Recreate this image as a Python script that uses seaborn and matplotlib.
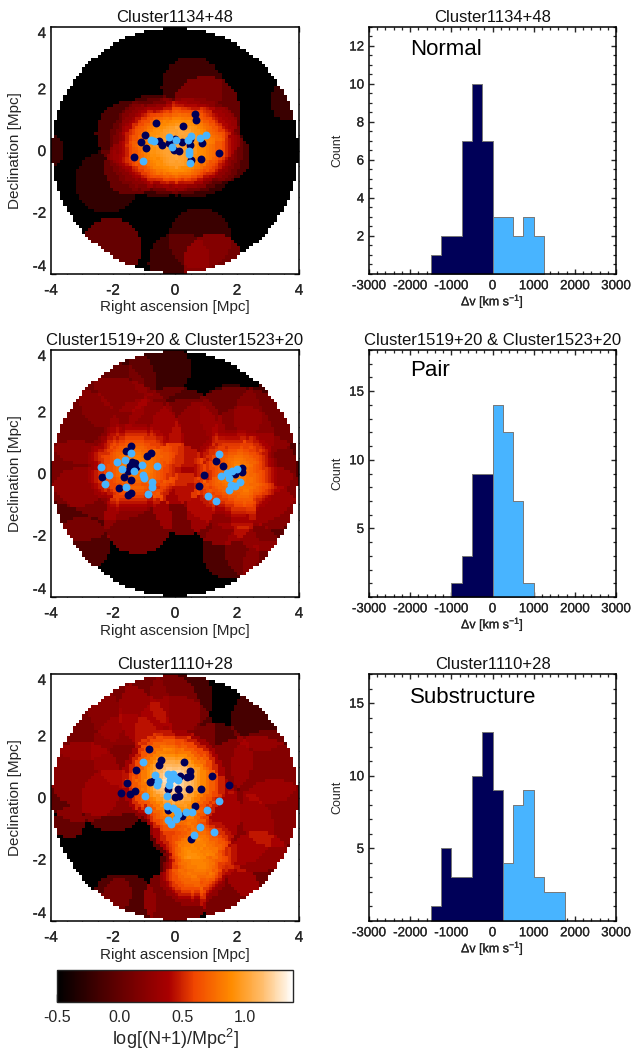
import numpy as np
import matplotlib
matplotlib.use('Agg')
import matplotlib.pyplot as plt
import matplotlib.patheffects as pe
import seaborn as sns
from matplotlib.colors import LinearSegmentedColormap

sns.set_theme(style='ticks')
plt.rcParams['font.family'] = ['Liberation Sans', 'DejaVu Sans']
plt.rcParams['mathtext.fontset'] = 'custom'
plt.rcParams['mathtext.rm'] = 'Liberation Sans'
plt.rcParams['mathtext.default'] = 'regular'
plt.rcParams['axes.unicode_minus'] = False
plt.rcParams['text.color'] = '#111111'

NAVY = '#000058'
LIGHT = '#48B4FF'

titles = ['Cluster1134+48', 'Cluster1519+20 & Cluster1523+20', 'Cluster1110+28']
kinds = ['Normal', 'Pair', 'Substructure']

# galaxy positions [Mpc]
navy_1 = [(0.65,1.18),(0.68,1.00),(-0.62,0.90),(0.27,0.78),(-0.97,0.49),(-1.10,0.29),(-0.51,0.32),
          (-0.43,0.18),(-0.92,0.09),(-1.31,-0.20),(-0.19,0.24),(0,0.38),(0.22,0.29),(-0.03,0.03),
          (0.12,-0.03),(0.48,0.19),(0.86,0.24),(0.83,-0.26),(0.52,-0.30),(1.41,-0.09),(0.48,0.38)]
light_1 = [(-1.03,-0.34),(-0.77,0.34),(-0.67,0.32),(-0.18,0.45),(0.03,0.34),(-0.09,0.10),(0.41,0.35),
           (0.51,0.48),(0.81,0.40),(0.99,0.51),(0.46,0),(0.46,-0.11),(0.48,-0.40)]
navy_2 = [(-1.43,0.88),(-1.59,0.74),(-0.91,0.58),(-0.78,0.66),(-1.40,0.38),(-1.29,0.34),(-1.26,0.20),
          (-1.45,0.24),(-1.51,0.08),(-1.66,-0.10),(-1.42,-0.20),(-2.34,-0.11),(-1.81,-0.47),(-1.42,-0.62),
          (-1.51,-0.71),(1.31,0.41),(1.55,0.24),(0.92,-0.05),(0.78,-0.42),(1.94,0),(2.15,0.18),(2.16,0.05)]
light_2 = [(-2.40,0.22),(-2.14,-0.04),(-2.26,-0.33),(-1.87,0.37),(-1.61,0.45),(-1.43,0.67),(-1.70,0.16),
           (-1.32,0.08),(-1.08,0.28),(-0.58,0.24),(-1.03,-0.05),(-1.0,-0.14),(-0.75,-0.28),(-0.73,-0.45),
           (-0.88,-0.67),(-1.57,-0.44),(1.43,0.62),(1.49,-0.09),(1.67,0.02),(1.83,0.08),(1.99,0.16),
           (1.75,-0.14),(1.80,-0.38),(1.73,-0.54),(1.95,-0.40),(2.10,-0.27),(1.08,-0.72),(1.32,-0.90)]
navy_3 = [(-0.84,1.58),(-0.45,1.22),(-0.53,1.06),(0.28,1.15),(-1.27,0.90),(0.48,0.85),(1.20,0.69),(1.75,0.40),
          (-1.55,0.47),(-1.29,0.20),(-1.45,0.12),(-1.75,0.16),(-0.81,0.49),(-0.70,0.53),(0.16,0.69),(0.38,0.66),
          (0.48,0.71),(-0.22,0.26),(0.11,0.26),(0.44,0.26),(0.83,0.26),(0,0.01),(0.12,0.04),(0.66,-0.29),
          (-0.22,-0.41),(0.22,-0.60),(0.52,-1.34),(0.05,-0.66)]
light_3 = [(-1.03,1.15),(-0.66,0.74),(-0.54,0.53),(-0.59,0.40),(-0.96,0.04),(-0.86,-0.41),(-0.24,0.77),(-0.08,0.77),
           (0,0.63),(0.09,0.58),(-0.16,0.56),(-0.19,0.39),(-0.26,0.04),(-0.26,-0.29),(-0.05,-0.33),(0.05,-0.44),
           (0.11,-0.52),(0.34,-0.46),(0.56,-0.46),(1.04,-0.41),(1.42,-0.12),(-0.24,-0.74),(-0.12,-0.85),
           (0.02,-0.71),(0.81,-0.96),(1.25,-1.11),(0.60,-1.23)]

# overlapping discs seen in the density maps: x, y, radius, density added
discs_1 = [(-2.2,-1.02,1.02,.25),(-2.05,-3.17,.97,.7),(0.8,-2.85,1.0,.3),(0.15,-3.65,1.0,.35),(1.25,-3.65,.95,.9),
           (0.55,2.05,1.0,.35),(3.7,1.6,.65,.3),(-4.15,0,.6,.3),(-1.5,.55,1.05,.45),(-0.7,.85,1.0,.4),
           (1.0,1.3,1.1,.7),(1.65,-.2,.8,.5),(1.25,.55,.9,.6),(-1.4,-.55,.9,.5)]
discs_2 = [(-2.0,.8,2.3,.5),(2.0,.5,2.3,.5),(0,1.2,1.6,.5),(-3.0,1.5,1.2,.4),(-1.6,3.0,1.0,.35),(-.5,3.4,1.0,.3),
           (-2.0,2.5,1.1,.35),(-3.2,0,1.1,.5),(-3.0,-1.0,1.2,.5),(-3.0,-2.3,.9,.5),(-1.0,1.2,1.2,.4),(.3,1.3,1.1,.5),
           (0,0,1.0,1.0),(.3,-1.0,1.0,.9),(-1.2,-1.5,1.1,.9),(1.8,1.9,1.0,.3),(3.0,1.8,1.1,.4),(2.9,.3,1.0,.5),
           (3.2,-.8,1.0,.6),(2.2,1.2,1.0,.4),(1.5,-1.2,1.1,.9),(2.9,-1.4,1.1,.6),(1.8,-2.5,.95,.45),(2.5,-2.5,.9,.45),
           (3.0,-3.0,.8,.4)]
discs_3 = [(2.5,-.2,2.2,.7),(-2.2,1.6,2.2,.7),(.6,-.5,1.5,.8),(-.5,2.8,1.3,.6),(-3,2.5,1.3,.3),(-1.5,3.0,1.3,.3),
           (.2,3.2,1.05,.4),(-1.5,1.5,1.2,.4),(0,2,1.3,.5),(1.3,1.2,1.2,.5),(2.8,2.5,1.0,.4),(3.0,1,1.2,.5),
           (3.2,-.5,1.1,.6),(-3,.5,1.3,.6),(-2,-.1,1.05,.6),(-3.4,-.8,.5,.7),(2,-1,1.2,.5),(2.7,-2.2,1.1,.8),
           (1.8,-3.2,1.0,1.0),(0,-3.3,1.0,1.0),(-1.5,-3.4,.9,.5),(-2,-3.1,.6,.5)]

# smooth cores: centre x, centre y, radii, density added by each ring
cores_1 = [(.05,.15,[1.6,1.45,1.3,1.2,1.1,1.0,.9,.7],[.3,.3,.35,.4,.5,.6,.6,.6]),
           (-.55,.1,[1.6,1.45,1.3,1.2,1.1,1.0,.9,.7],[.3,.3,.35,.4,.5,.5,.5,.5]),
           (.6,.1,[1.6,1.45,1.3,1.2,1.1,1.0,.9,.7],[.3,.3,.35,.4,.5,.5,.5,.5])]
cores_2 = [(-1.4,.2,[1.45,1.35,1.25,1.15,1.05,.95,.85,.75,.65,.55,.45,.35,.25],
            [.35,.4,.4,.45,.5,.5,.5,.5,.5,.5,.5,.4,.4]),
           (1.95,0,[1.4,1.3,1.2,1.1,1.0,.9,.8,.7,.6,.5,.4,.3,.2],
            [.35,.4,.4,.45,.5,.5,.5,.5,.5,.5,.5,.4,.4])]
cores_3 = [(-.05,.55,[1.65,1.5,1.35,1.2,1.05,.9,.8,.7,.6,.5,.4,.3,.2],[.8,.9,1,1,1.4,1.5,1.5,1.8,1.8,1.8,1.8,1.8,1.8]),
           (.9,-1.8,[1.1,.95,.85,.75,.65,.5],[.5,.6,.6,.6,.6,.6]),
           (.55,-2.4,[1.1,.95,.85,.75,.65,.5],[.5,.6,.6,.6,.6,.6]),
           (.15,-1.0,[1.0,.85,.7,.55],[.6,.7,.7,.7])]

cb_levels = [-0.5, 0.0, 0.4, 0.6, 0.9, 1.15, 1.388]
cb_colors = ['#000000', '#640000', '#aa0000', '#f04600', '#ff8c00', '#ffbe6e', '#ffffff']

hist_left_1 = [1, 2, 2, 7, 10, 7]
hist_right_1 = [3, 3, 2, 3, 2]
hist_left_2 = [1, 3, 9, 9]
hist_right_2 = [14, 12, 7, 1]
hist_left_3 = [1, 5, 3, 3, 10, 13, 9]
hist_right_3 = [4, 8, 9, 3, 2, 2]
first_edges_l = [-1500, -1000, -1500]
first_edges_r = [0, 0, 250]
ymax = [13, 18, 17]
yticks = [[2, 4, 6, 8, 10, 12], [5, 10, 15], [5, 10, 15]]
yminor = [0.5, 1, 1]
kind_y = [11.8, 16.5, 15.35]

tops = [27, 350, 674]
W, H = 634, 1049
stroke = [pe.withStroke(linewidth=0.15, foreground='#111111')]


def axes_px(fig, x0, y0, w, h):
    return fig.add_axes([x0 / W, 1 - (y0 + h) / H, w / W, h / H])


def density_map(discs, cores):
    centres = np.arange(-3.95, 4.0, 0.1)
    xx, yy = np.meshgrid(centres, centres)
    dens = np.zeros_like(xx)
    for x, y, r, a in discs:
        dens[(xx - x) ** 2 + (yy - y) ** 2 <= r ** 2] += a
    for x, y, radii, adds in cores:
        for r, a in zip(radii, adds):
            dens[(xx - x) ** 2 + (yy - y) ** 2 <= r ** 2] += a
    val = np.log10(dens + 10 ** -0.5)
    val[xx ** 2 + yy ** 2 > 3.97 ** 2] = np.nan
    return np.arange(-4, 4.05, 0.1), val


def style_box(ax):
    for s in ax.spines.values():
        s.set_visible(True)
        s.set_linewidth(1.1)
        s.set_color('black')
    ax.tick_params(which='major', direction='in', top=True, right=True, length=3.8, width=1.0)
    ax.tick_params(which='minor', direction='in', top=True, right=True, length=1.9, width=0.9)


fig = plt.figure(figsize=(6.34, 10.49), dpi=100, facecolor='white')
stops = [(v + 0.5) / 1.888 for v in cb_levels]
cmap = LinearSegmentedColormap.from_list('redtemp', list(zip(stops, cb_colors)), N=256)
cmap.set_bad('white')

all_discs = [discs_1, discs_2, discs_3]
all_cores = [cores_1, cores_2, cores_3]
all_navy = [navy_1, navy_2, navy_3]
all_light = [light_1, light_2, light_3]
all_left = [hist_left_1, hist_left_2, hist_left_3]
all_right = [hist_right_1, hist_right_2, hist_right_3]

for i in range(3):
    # density map
    ax = axes_px(fig, 51, tops[i], 248, 247)
    edges, val = density_map(all_discs[i], all_cores[i])
    mesh = ax.pcolormesh(edges, edges, val, cmap=cmap, vmin=-0.5, vmax=1.388, linewidth=0, rasterized=True)
    sns.scatterplot(x=[p[0] for p in all_navy[i]], y=[p[1] for p in all_navy[i]], color=NAVY, s=32,
                    linewidth=0, ax=ax, zorder=3)
    sns.scatterplot(x=[p[0] for p in all_light[i]], y=[p[1] for p in all_light[i]], color=LIGHT, s=32,
                    linewidth=0, ax=ax, zorder=4)
    ax.set_xlim(-4, 4)
    ax.set_ylim(-4, 4)
    ax.set_xticks([-4, -2, 0, 2, 4])
    ax.set_yticks([-4, -2, 0, 2, 4])
    ax.set_xticks(np.arange(-4, 4.1, 0.5), minor=True)
    ax.set_yticks(np.arange(-4, 4.1, 0.5), minor=True)
    style_box(ax)
    ax.tick_params(axis='x', labelsize=11, pad=7)
    ax.tick_params(axis='y', labelsize=11, pad=3.5)
    labs = ax.get_yticklabels()
    labs[0].set_va('bottom')
    labs[-1].set_va('top')
    for t in ax.get_xticklabels() + labs:
        t.set_path_effects(stroke)
    ax.set_xlabel('Right ascension [Mpc]', fontsize=11, labelpad=2)
    ax.set_ylabel('Declination [Mpc]', fontsize=11)
    ax.yaxis.set_label_coords(-0.115, 0.5)
    ax.set_title(titles[i], fontsize=12, pad=3.5)

    # velocity histogram
    ax = axes_px(fig, 369, tops[i], 247, 247)
    nl, nr = len(all_left[i]), len(all_right[i])
    el = [first_edges_l[i] + 250 * k for k in range(nl + 1)]
    er = [first_edges_r[i] + 250 * k for k in range(nr + 1)]
    sns.histplot(x=el[:-1], weights=all_left[i], bins=el, element='step', color=NAVY, alpha=1,
                 edgecolor='#777777', linewidth=0.7, ax=ax)
    sns.histplot(x=er[:-1], weights=all_right[i], bins=er, element='step', color=LIGHT, alpha=1,
                 edgecolor='#777777', linewidth=0.7, ax=ax)
    ax.set_xlim(-3000, 3000)
    ax.set_ylim(0, ymax[i])
    ax.set_xticks(np.arange(-3000, 3001, 1000))
    ax.set_xticks(np.arange(-3000, 3001, 200), minor=True)
    ax.set_yticks(yticks[i])
    ax.set_yticks(np.arange(0, ymax[i] + 0.01, yminor[i]), minor=True)
    style_box(ax)
    ax.tick_params(axis='x', labelsize=9.6, pad=4.5)
    ax.tick_params(axis='y', labelsize=9.6, pad=3.5)
    for t in ax.get_xticklabels() + ax.get_yticklabels():
        t.set_path_effects(stroke)
    ax.set_xlabel('Δv [km s$^{-1}$]', fontsize=9, labelpad=0, path_effects=stroke)
    ax.set_ylabel('Count', fontsize=9)
    ax.yaxis.set_label_coords(-0.105, 0.5)
    ax.set_title(titles[i], fontsize=12, pad=3.5)
    ax.text(-2000, kind_y[i], kinds[i], fontsize=16, va='center', ha='left', color='black')

# colour bar
cax = axes_px(fig, 57, 970, 236, 32)
cb = fig.colorbar(mesh, cax=cax, orientation='horizontal')
cb.set_ticks([-0.5, 0.0, 0.5, 1.0])
cb.set_ticklabels(['-0.5', '0.0', '0.5', '1.0'])
cax.set_xticks([-0.25, 0.25, 0.75, 1.25], minor=True)
cax.tick_params(which='major', direction='in', length=5.8, width=1.0, labelsize=11.5, pad=6, color='black')
cax.tick_params(which='minor', direction='in', length=3, width=1.0, color='black')
cb.outline.set_linewidth(1.0)
cb.set_label('log[(N+1)/Mpc$^2$]', fontsize=13, labelpad=1)

fig.savefig('out.png', dpi=100)
